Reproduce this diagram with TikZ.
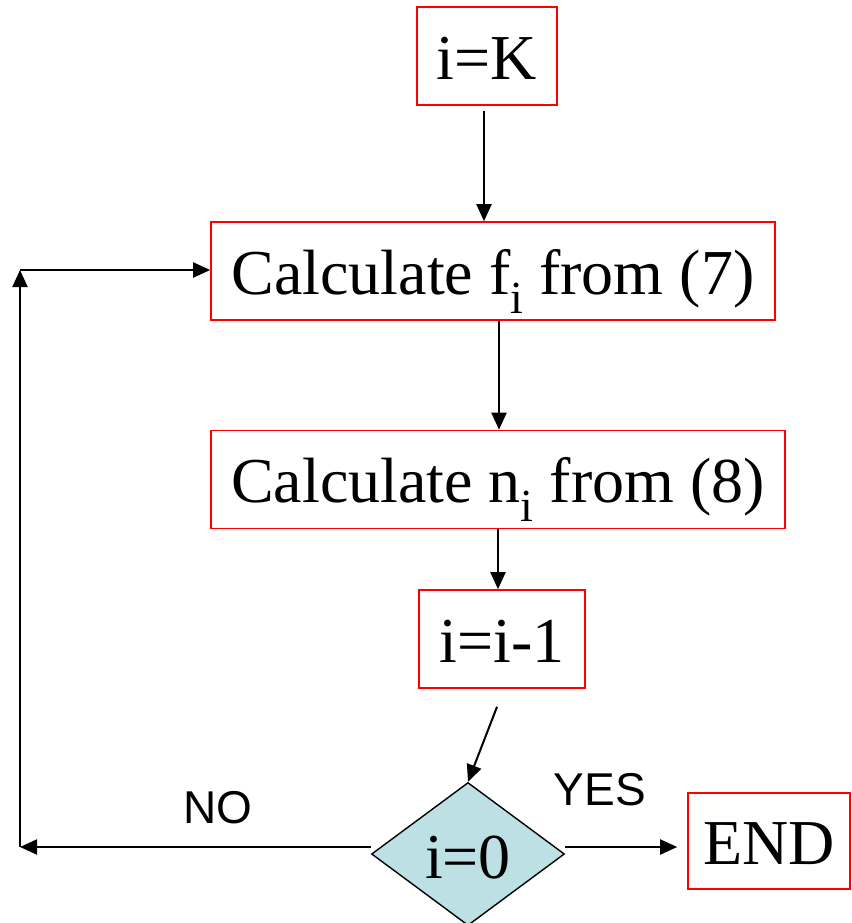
\documentclass[tikz,border=0pt]{standalone}
\usepackage{fontspec}
\setmainfont{Liberation Serif}
\newfontfamily\answerfont{Liberation Sans}
\usetikzlibrary{arrows.meta,positioning,shapes.geometric}

\newcommand{\lowi}{\raisebox{-0.3em}{\fontsize{46}{46}\selectfont i}}

\begin{document}
\begin{tikzpicture}[x=1pt,y=-1pt]

    \tikzset{
      box/.style={
        draw=red,
        line width=1.6pt,
        minimum height=98pt,
        inner sep=0pt,
        text height=51pt,
        text depth=4.5pt,
        font=\fontsize{64}{64}\selectfont,
      },
      test/.style={
        diamond,
        draw,
        line width=1.4pt,
        fill={rgb,255:red,188;green,224;blue,227},
        minimum width=193pt,
        minimum height=143pt,
        inner sep=0pt,
        text height=51pt,
        text depth=2pt,
        font=\fontsize{64}{64}\selectfont,
      },
      flow/.style={
        line width=2pt,
        -{Triangle[length=17pt,width=15pt]},
      },
      answer/.style={
        font=\answerfont\fontsize{46}{46}\selectfont,
      },
    }
    \useasboundingbox (0,0) rectangle (851,923);

    % boxes
    \node[box, minimum width=140pt] (start) at (487,56) {i=K};
    \node[box, minimum width=564pt] (calcf) at (493,271) {Calculate f\lowi{} from (7)};
    \node[box, minimum width=574pt] (calcn) at (498,479.5) {Calculate n\lowi{} from (8)};
    \node[box, minimum width=166pt] (decr) at (502,639) {i=i-1};
    \node[test] (check) at (468,854) {i=0};
    \node[box, minimum width=162pt, minimum height=96pt] (finish) at (769,841) {END};

    \coordinate (lowcorner) at (20,847);
    \coordinate (highcorner) at (20,270);

    % connectors
    \draw[flow, shorten <=5pt] ([xshift=-3pt]start.south) -- ([xshift=-3pt]start.south |- calcf.north);
    \draw[flow] ([xshift=6pt]calcf.south) -- ([xshift=6pt]calcf.south |- calcn.north);
    \draw[flow] (calcn.south) -- (calcn.south |- decr.north);
    \draw[flow] ([shift={(-5pt,-18pt)}]decr.south) -- (check.north);
    \draw[flow, shorten >=10pt] ([yshift=7pt]check.east) -- ([yshift=7pt]check.east -| finish.west);
    \draw[flow] ([yshift=7pt]check.west) -- (lowcorner);
    \draw[flow] (lowcorner) -- (highcorner);
    \draw[flow] (highcorner) -- (highcorner -| calcf.west);

    % labels
    \node[answer] (nolabel) at (218,808) {NO};
    \node[answer] (yeslabel) at (600,790) {YES};

\end{tikzpicture}
\end{document}
